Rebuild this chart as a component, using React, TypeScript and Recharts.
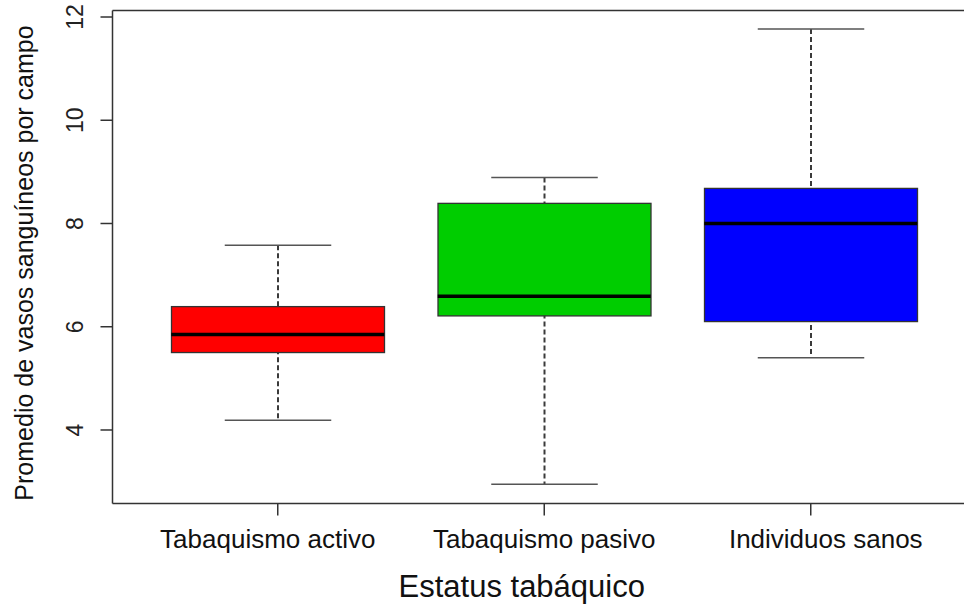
import React from 'react';
import { ComposedChart, Bar, Scatter, XAxis, YAxis, ReferenceLine, Cell } from 'recharts';

// ---- data ----
const categories = ['Tabaquismo activo', 'Tabaquismo pasivo', 'Individuos sanos'];
const minValues = [4.19, 2.95, 5.4];
const q1Values = [5.5, 6.21, 6.1];
const medianValues = [5.85, 6.59, 8.0];
const q3Values = [6.39, 8.39, 8.68];
const maxValues = [7.58, 8.89, 11.77];
const boxColors = ['#FF0000', '#00CD00', '#0000FF'];
const yTicks = [4, 6, 8, 10, 12];
const yDomain = [2.576, 12.126];
const xTitle = 'Estatus tabáquico';
const yTitle = 'Promedio de vasos sanguíneos por campo';

const data = categories.map((name, i) => ({
  name,
  whisker: [minValues[i], maxValues[i]],
  box: [q1Values[i], q3Values[i]],
  median: medianValues[i],
}));

// ---- style ----
const FONT = '"Liberation Sans", Arial, sans-serif';
const BOX_W = 213;
const AXIS_COLOR = '#333';
const X_PADDING = { left: 32, right: 20 };
const X_LABEL_DX = [-10, 0, 15];

const WhiskerShape = (props: any) => {
  const { x, y, width, height } = props;
  const top = Math.min(y, y + height);
  const bottom = Math.max(y, y + height);
  const cx = x + width / 2;
  const half = width / 4;
  return (
    <g>
      <line x1={cx} x2={cx} y1={top} y2={bottom} stroke="#3a3a3a" strokeWidth={2} strokeDasharray="5 3" />
      <line x1={cx - half} x2={cx + half} y1={top} y2={top} stroke="#555" strokeWidth={1.5} />
      <line x1={cx - half} x2={cx + half} y1={bottom} y2={bottom} stroke="#555" strokeWidth={1.5} />
    </g>
  );
};

const BoxShape = (props: any) => {
  const { x, y, width, height, fill } = props;
  const top = Math.min(y, y + height);
  const h = Math.abs(height);
  return <rect x={x} y={top} width={width} height={h} fill={fill} stroke="#333" strokeWidth={1.3} />;
};

const MedianShape = (props: any) => {
  const { cx, cy } = props;
  return <line x1={cx - BOX_W / 2} x2={cx + BOX_W / 2} y1={cy} y2={cy} stroke="#000" strokeWidth={3.5} />;
};

const YTick = (props: any) => {
  const { x, y, payload } = props;
  return (
    <text
      transform={`translate(${x - 17.2}, ${y}) rotate(-90)`}
      textAnchor="middle"
      fontSize={23}
      fontFamily={FONT}
      fill="#222"
    >
      {payload.value}
    </text>
  );
};

const XTick = (props: any) => {
  const { x, y, payload, index } = props;
  return (
    <text x={x + (X_LABEL_DX[index] || 0)} y={y + 32.5} textAnchor="middle" fontSize={26} fontFamily={FONT} fill="#111">
      {payload.value}
    </text>
  );
};

const XTitle = (props: any) => {
  const { viewBox } = props;
  const cx = viewBox.x + viewBox.width / 2 - 16.5;
  return (
    <text x={cx} y={597} textAnchor="middle" fontSize={31} fontFamily={FONT} fill="#111">
      {xTitle}
    </text>
  );
};

const YTitle = () => (
  <text transform="translate(33, 263) rotate(-90)" textAnchor="middle" fontSize={25} fontFamily={FONT} fill="#111">
    {yTitle}
  </text>
);

export default function App() {
  return (
    <div style={{ position: 'absolute', left: 0, top: 0, width: 964, height: 605, background: '#fff' }}>
      <ComposedChart width={964} height={605} data={data} margin={{ top: 10.5, right: 0, bottom: 0, left: 0 }}>
        <XAxis
          xAxisId="main"
          dataKey="name"
          type="category"
          padding={X_PADDING}
          height={101.5}
          tickSize={12}
          tickMargin={0}
          tick={<XTick />}
          stroke={AXIS_COLOR}
          axisLine={{ stroke: AXIS_COLOR, strokeWidth: 1.5 }}
          tickLine={{ stroke: AXIS_COLOR, strokeWidth: 1.5 }}
          interval={0}
          label={<XTitle />}
        />
        <XAxis xAxisId="box" dataKey="name" type="category" padding={X_PADDING} height={0} hide />
        <XAxis xAxisId="med" dataKey="name" type="category" padding={X_PADDING} height={0} hide />
        <YAxis
          type="number"
          domain={yDomain}
          ticks={yTicks}
          width={112.5}
          tickSize={12}
          tickMargin={0}
          tick={<YTick />}
          axisLine={{ stroke: AXIS_COLOR, strokeWidth: 1.5 }}
          tickLine={{ stroke: AXIS_COLOR, strokeWidth: 1.5 }}
          allowDataOverflow
          label={<YTitle />}
        />
        <ReferenceLine xAxisId="main" y={yDomain[1]} stroke={AXIS_COLOR} strokeWidth={1.5} />
        <Bar xAxisId="main" dataKey="whisker" barSize={BOX_W} shape={<WhiskerShape />} isAnimationActive={false} />
        <Bar xAxisId="box" dataKey="box" barSize={BOX_W} shape={<BoxShape />} isAnimationActive={false}>
          {data.map((d, i) => (
            <Cell key={d.name} fill={boxColors[i]} />
          ))}
        </Bar>
        <Scatter xAxisId="med" dataKey="median" shape={<MedianShape />} isAnimationActive={false} />
      </ComposedChart>
    </div>
  );
}
